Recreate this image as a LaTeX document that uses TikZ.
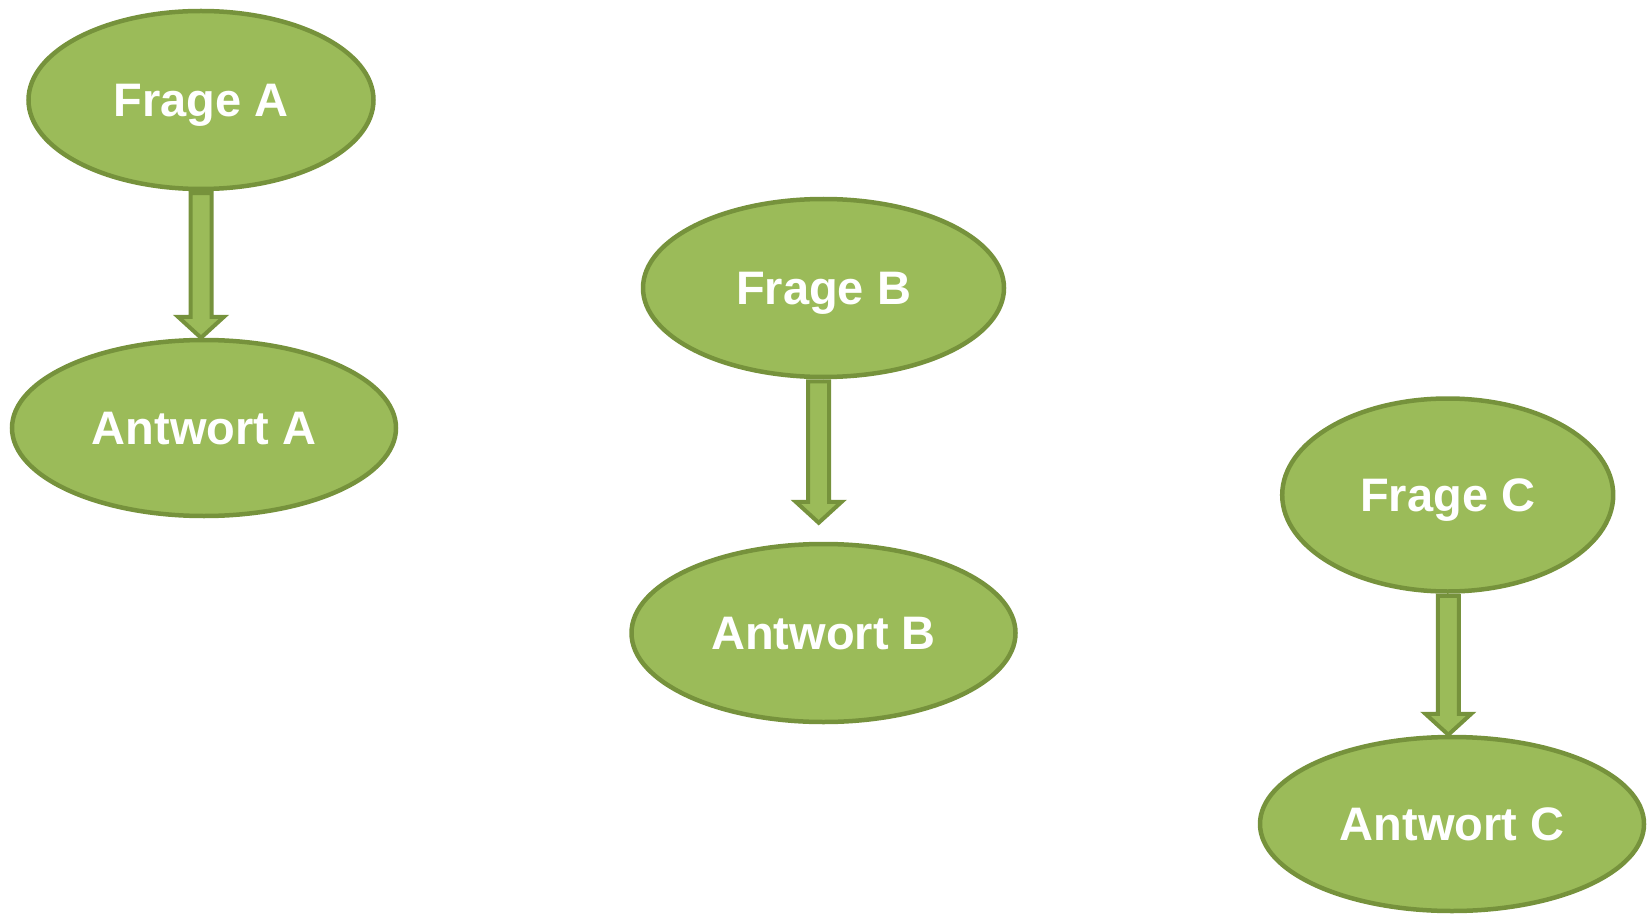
\documentclass[tikz,border=0pt]{standalone}
\usepackage{fontspec}
\setmainfont{Liberation Sans}
\usetikzlibrary{shapes.geometric,calc}
\definecolor{fillgreen}{HTML}{9BBB59}
\definecolor{edgegreen}{HTML}{76923C}
\tikzset{
  bubble/.style={ellipse, draw=edgegreen, fill=fillgreen, line width=4.5pt, inner sep=0pt,
    text=white, font=\fontsize{47}{50}\selectfont\bfseries, text height=33.6pt, text depth=0pt},
  blockarrow/.style={draw=edgegreen, fill=fillgreen, line width=4pt, line join=miter}
}
% #1 upper node, #2 lower node, #3 x offset, #4 gap above lower node
\newcommand{\myblockarrow}[4]{%
  \draw[blockarrow] let \p1=(#1.south), \p2=(#2.north) in
    (\x1+#3-10.5pt,\y1-2pt) -- (\x1+#3-10.5pt,\y2+#4+21pt) -- (\x1+#3-23pt,\y2+#4+21pt)
    -- (\x1+#3,\y2+#4) -- (\x1+#3+23pt,\y2+#4+21pt) -- (\x1+#3+10.5pt,\y2+#4+21pt)
    -- (\x1+#3+10.5pt,\y1-2pt) -- cycle;}
\begin{document}
\begin{tikzpicture}[x=1pt,y=1pt]
\useasboundingbox (0,0) rectangle (1648,-917);
\node[bubble, minimum width=345pt, minimum height=178pt] (fa) at (201,-100) {Frage A};
\node[bubble, minimum width=384pt, minimum height=176pt] (aa) at (204,-428) {Antwort A};
\node[bubble, minimum width=361pt, minimum height=178pt] (fb) at (823.5,-288) {Frage B};
\node[bubble, minimum width=384pt, minimum height=178pt] (ab) at (823.5,-633) {Antwort B};
\node[bubble, minimum width=331pt, minimum height=193pt] (fc) at (1447.7,-495) {Frage C};
\node[bubble, minimum width=384pt, minimum height=174pt] (ac) at (1452,-824) {Antwort C};
\myblockarrow{fa}{aa}{0pt}{0pt}
\myblockarrow{fb}{ab}{-4.8pt}{19pt}
\myblockarrow{fc}{ac}{0.6pt}{0pt}
\end{tikzpicture}
\end{document}
